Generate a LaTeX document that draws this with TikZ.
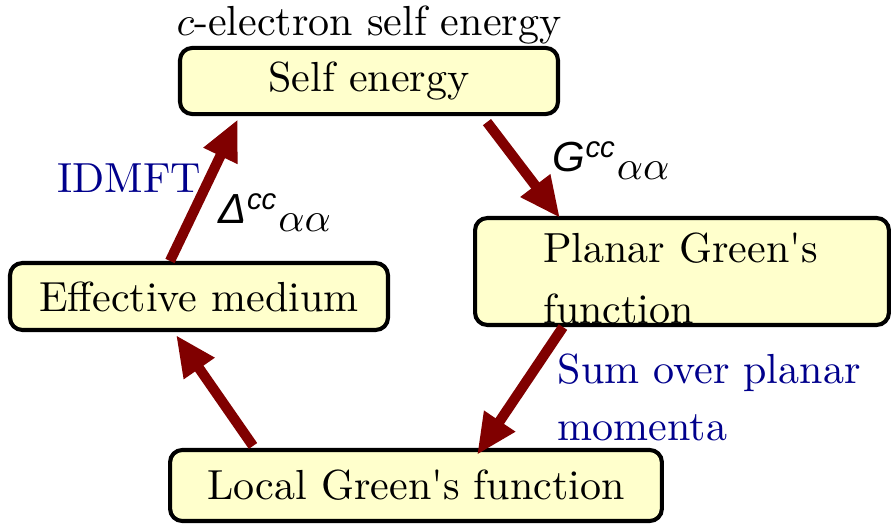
\documentclass[tikz,border=0pt]{standalone}
\usepackage{fontspec}
\newfontfamily\helvit{Liberation Sans}
\usetikzlibrary{arrows.meta,calc}
\definecolor{boxfill}{RGB}{255,255,204}
\definecolor{loopred}{RGB}{128,0,0}
\definecolor{notenavy}{RGB}{0,0,140}

\begin{document}
\begin{tikzpicture}[x=0.245pt,y=-0.245pt,font=\fontsize{10.3}{12.4}\selectfont,
  stagebox/.style={draw,line width=1pt,rounded corners=3pt,fill=boxfill,inner sep=0pt},
  loop/.style={-{Triangle[length=10pt,width=8.5pt]},line width=2.5pt,loopred},
  note/.style={notenavy,inner sep=0pt}]
\useasboundingbox (0,0) rectangle (891,527);
% the four stages
\node[stagebox,minimum width=92.6pt,minimum height=16.2pt] (self) at (369,81) {Self energy};
\node[stagebox,minimum width=101.4pt,minimum height=26.2pt,text width=68pt,inner xsep=16.7pt,
  align=left,font=\fontsize{10.3}{14.8}\selectfont]
  (planar) at (682,271.5) {\rule{0pt}{10.6pt}Planar Green\textquotesingle s\\function};
\node[stagebox,minimum width=120.5pt,minimum height=17.4pt] (local) at (416,485.5) {Local Green\textquotesingle s function};
\node[stagebox,minimum width=92.6pt,minimum height=16.4pt] (eff) at (199,296.5) {Effective medium};
% labels
\node[inner sep=0pt,anchor=base] (title) at (369,35) {$c$-electron self energy};
\node[note,anchor=base] (idmft) at (129,193) {IDMFT};
\node[note,anchor=north west,align=left,font=\fontsize{10.3}{14}\selectfont] (sum) at (557,353) {Sum over planar\\momenta};
\node[inner sep=0pt,anchor=base west] (gcc) at (552,172) {{\helvit\itshape G\textsuperscript{cc}}\raisebox{-1.8pt}{$\alpha\alpha$}};
\node[inner sep=0pt,anchor=base west] (dcc) at (218,224) {{\helvit\itshape Δ\textsuperscript{cc}}\raisebox{-1.8pt}{$\alpha\alpha$}};
% the cycle
\draw[loop] ($(self.south)+(118,6)$) -- ($(planar.north)+(-122,2)$);
\draw[loop] ($(planar.south)+(-119,0)$) -- ($(local.north)+(61,7)$);
\draw[loop] ($(local.north)+(-163,-2)$) -- ($(eff.south)+(-23,3)$);
\draw[loop] ($(eff.north)+(-29,0)$) -- ($(self.south)+(-131,3)$);
\end{tikzpicture}
\end{document}
